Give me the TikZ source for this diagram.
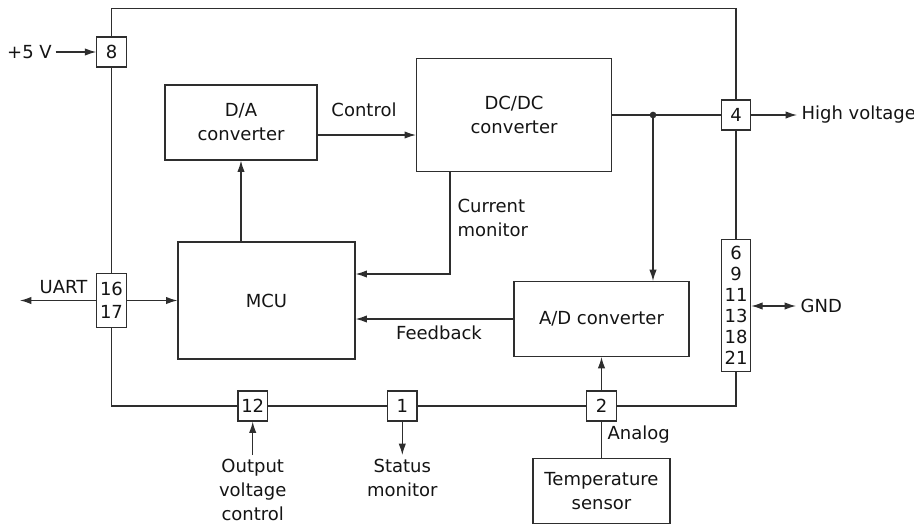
\documentclass[tikz,border=0pt]{standalone}
\usepackage{fontspec}
\setmainfont{DejaVu Sans}
\usetikzlibrary{arrows.meta}
\begin{document}
\begin{tikzpicture}[x=0.75pt,y=-0.75pt, line width=0.9pt, color=black!82, text=black!92,
  >={Latex[length=8.5pt,width=5.5pt]},
  font=\fontsize{13.5}{18}\selectfont,
  blk/.style={draw, inner sep=0pt, align=center},
  pin/.style={draw, fill=white, inner sep=0pt, align=center, minimum width=22pt, minimum height=22.5pt},
  lbl/.style={inner sep=0pt, align=center},
  dotc/.style={circle, fill, inner sep=0pt, minimum size=5pt}]
\useasboundingbox (0,0) rectangle (914,525);

% blocks
\node[blk, minimum width=114pt, minimum height=56.25pt] (da) at (241,122.5) {D/A\\converter};
\node[blk, minimum width=146.25pt, minimum height=84.4pt] (dcdc) at (514,115) {DC/DC\\converter};
\node[blk, minimum width=132.75pt, minimum height=87.75pt] (mcu) at (266.5,300.5) {MCU};
\node[blk, minimum width=131.25pt, minimum height=56pt] (ad) at (601.5,319) {A/D converter};
\node[blk, minimum width=102.75pt, minimum height=48.5pt] (temp) at (601.5,491.2) {Temperature\\sensor};

% frame corners
\coordinate (tl) at (111.5,8.5);
\coordinate (tr) at (736,8.5);
\coordinate (br) at (736,406);
\coordinate (bl) at (111.5,406);

% pins
\node[pin] (p8) at (111.5,52) {8};
\node[pin] (p4) at (736,115) {4};
\node[pin, minimum height=40.5pt, font=\fontsize{13.5}{17.25}\selectfont] (p16) at (111.5,300.5) {16\\17};
\node[pin, minimum height=99pt, font=\fontsize{13.5}{15.75}\selectfont] (pg) at (736,305.5) {6\\9\\11\\13\\18\\21};
\node[pin] (p12) at (252.7,406) {12};
\node[pin] (p1) at (402.3,406) {1};
\node[pin] (p2) at (601.5,406) {2};

% frame
\draw (p8.north) -- (tl) -- (tr) -- (p4.north);
\draw (p4.south) -- (pg.north);
\draw (pg.south) -- (br) -- (p2.east);
\draw (p2.west) -- (p1.east);
\draw (p1.west) -- (p12.east);
\draw (p12.west) -- (bl) -- (p16.south);
\draw (p16.north) -- (p8.south);

% external labels
\node[lbl] (v5) at (29.5,52) {+5 V};
\draw[->] ([xshift=2.5pt]v5.east) -- (p8.west);
\node[lbl, anchor=west] (hv) at (801,115) {High voltage};
\draw[->] (p4.east) -- ([xshift=-3pt]hv.west);
\node[lbl, anchor=west] (gnd) at (800,306) {GND};
\draw[<->] (pg.east |- gnd.west) -- ([xshift=-3pt]gnd.west);
\coordinate (uartend) at (20,300.5);
\draw[->] (p16.west) -- (uartend);
\node[lbl] (uart) at (63.5,287) {UART};
\draw[->] (p16.east) -- (mcu.west);

% internal connections
\coordinate (ctrly) at (0,135);
\draw[->] (da.east |- ctrly) -- (dcdc.west |- ctrly);
\node[lbl] (ctrl) at (364,110) {Control};

\coordinate (dot) at (653,115);
\draw (dcdc.east) -- (p4.west);
\node[dotc] (dotn) at (dot) {};
\draw[->] (dot) -- (dot |- ad.north);

\coordinate (cmturn) at (450,274);
\draw[->] (dcdc.south -| cmturn) -- (cmturn) -- (mcu.east |- cmturn);
\node[lbl, anchor=west, align=left] (cm) at (457,218) {Current\\monitor};

\draw[->] (ad.west) -- (mcu.east |- ad.west);
\node[lbl] (fb) at (439,333) {Feedback};

\draw[->] (mcu.north -| da.south) -- (da.south);

\draw[->] (p2.north) -- (p2.north |- ad.south);
\draw (p2.south) -- (temp.north);
\node[lbl, anchor=west] (analog) at (607,435) {Analog};

% bottom
\coordinate (ovctop) at (252.7,455);
\node[lbl, anchor=north] (ovc) at (252.7,458.5) {Output\\voltage\\control};
\draw[->] (ovctop) -- (p12.south);
\coordinate (smtop) at (402.3,455);
\node[lbl, anchor=north] (sm) at (402.3,459) {Status\\monitor};
\draw[->] (p1.south) -- (smtop);
\end{tikzpicture}
\end{document}
